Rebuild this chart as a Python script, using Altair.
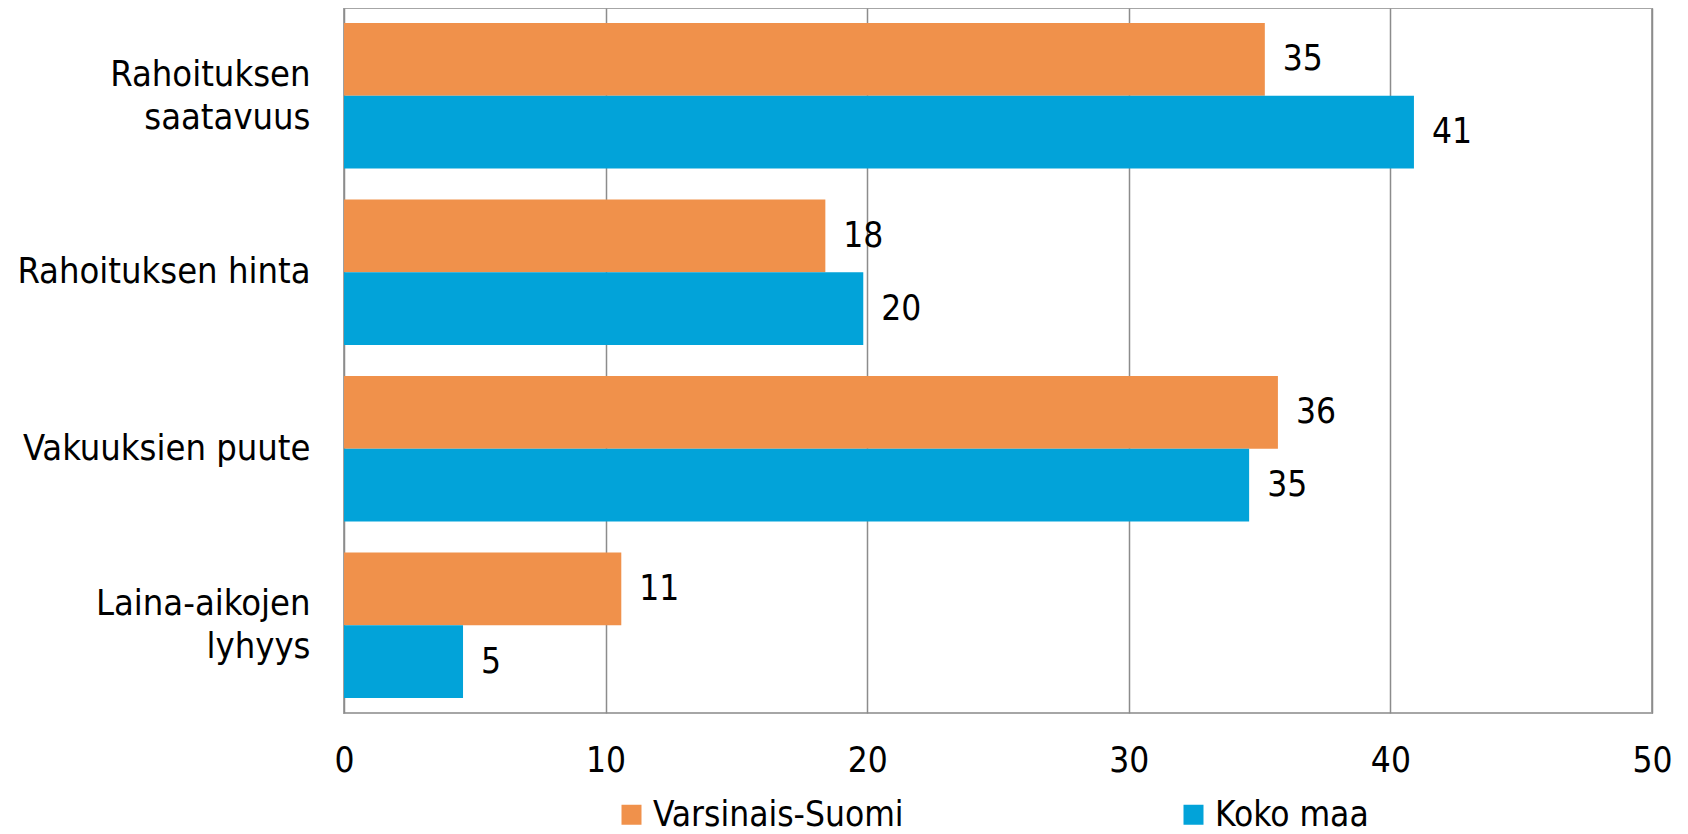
import altair as alt
import pandas as pd

categories = ["Rahoituksen\nsaatavuus", "Rahoituksen hinta", "Vakuuksien puute", "Laina-aikojen\nlyhyys"]
series = ["Varsinais-Suomi", "Koko maa"]
varsinais_suomi = [35.2, 18.4, 35.7, 10.6]
koko_maa = [40.9, 19.85, 34.6, 4.55]
colors = ["#F0914B", "#02A3D9"]
x_ticks = [0, 10, 20, 30, 40, 50]

rows = []
for i, c in enumerate(categories):
    rows.append({"cat": c, "series": series[0], "value": varsinais_suomi[i]})
    rows.append({"cat": c, "series": series[1], "value": koko_maa[i]})
df = pd.DataFrame(rows)

FONT = "DejaVu Sans Condensed"
FS = 35

base = alt.Chart(df).encode(
    y=alt.Y(
        "cat:N",
        sort=categories,
        scale=alt.Scale(paddingInner=0.176, paddingOuter=0.085),
        axis=alt.Axis(
            title=None,
            labelExpr="split(datum.label, '\\n')",
            labelFont=FONT,
            labelFontSize=36,
            labelColor="#000000",
            labelLineHeight=43,
            labelPadding=34,
            labelOffset={"condition": {"test": "indexof(datum.value, '\\n') >= 0", "value": -21}, "value": 0},
            ticks=False,
            tickSize=0,
            domain=False,
            labelLimit=400,
        ),
    ),
    yOffset=alt.YOffset("series:N", sort=series, scale=alt.Scale(paddingInner=0, paddingOuter=0)),
    x=alt.X(
        "value:Q",
        scale=alt.Scale(domain=[0, 50], nice=False),
        axis=alt.Axis(
            title=None,
            values=x_ticks,
            grid=True,
            gridColor="#8c8c8c",
            gridWidth=1.5,
            labelFont=FONT,
            labelFontSize=FS,
            labelColor="#000000",
            labelBaseline="middle",
            labelPadding=47,
            ticks=False,
            tickSize=0,
            domain=False,
            labelFlush=False,
        ),
    ),
)

bars = base.mark_bar().encode(
    color=alt.Color(
        "series:N",
        sort=series,
        scale=alt.Scale(domain=series, range=colors),
        legend=alt.Legend(
            title=None,
            orient="none",
            legendX=270,
            legendY=789,
            direction="horizontal",
            columnPadding=272,
            symbolType="square",
            symbolSize=400,
            symbolStrokeWidth=0,
            labelFont=FONT,
            labelFontSize=FS,
            labelColor="#000000",
            labelOffset=4,
            padding=0,
            labelLimit=400,
        ),
    )
)

labels = base.mark_text(align="left", baseline="middle", dx=18, font=FONT, fontSize=FS, color="#000000").encode(
    text=alt.Text("value:Q", format=".0f")
)

chart = (
    alt.layer(bars, labels)
    .properties(
        width=1308,
        height=705,
        autosize=alt.AutoSizeParams(type="none"),
        padding={"left": 336, "top": 0, "right": 20, "bottom": 121},
    )
    .configure_view(stroke="#a6a6a6", strokeWidth=2)
)

chart.save("out.html", embed_options={"renderer": "svg", "actions": False})
